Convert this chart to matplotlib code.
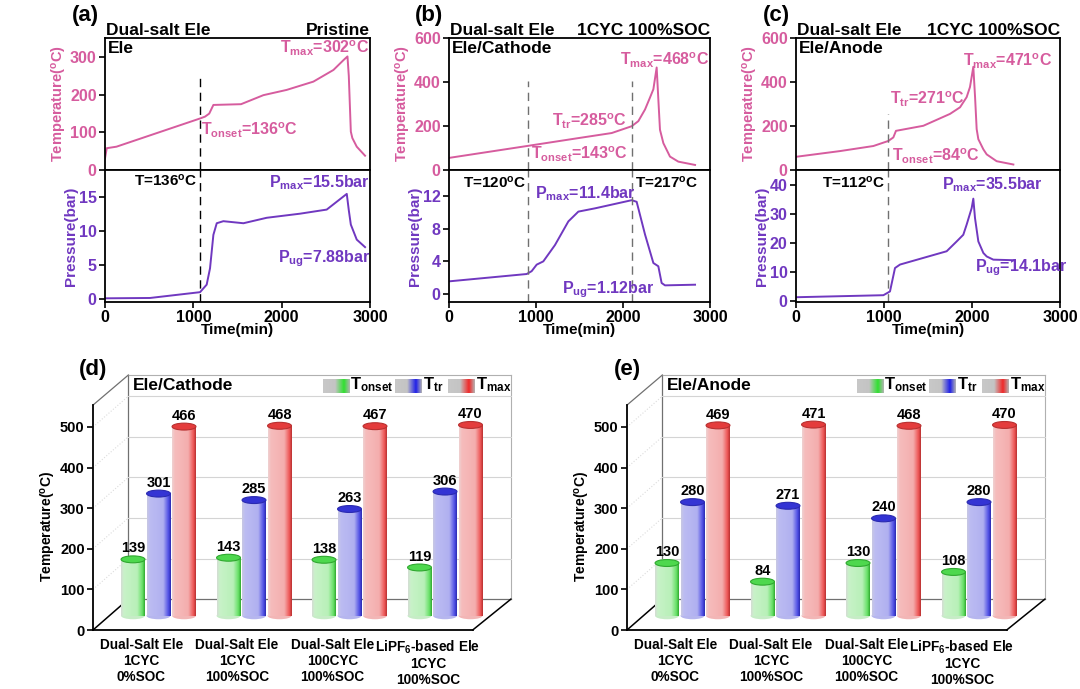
import numpy as np
import matplotlib.pyplot as plt
from matplotlib.patches import Ellipse
from matplotlib.colors import LinearSegmentedColormap

plt.rcParams['font.family'] = ['Liberation Sans', 'DejaVu Sans']
plt.rcParams['font.weight'] = 'bold'
plt.rcParams['axes.labelweight'] = 'bold'
plt.rcParams['mathtext.fontset'] = 'custom'
plt.rcParams['mathtext.rm'] = 'Liberation Sans:bold'
plt.rcParams['mathtext.it'] = 'Liberation Sans:bold'
plt.rcParams['mathtext.bf'] = 'Liberation Sans:bold'
plt.rcParams['mathtext.default'] = 'rm'
plt.rcParams['axes.linewidth'] = 1.3

# ---- ARC curves (time in min) ----
a_temp_t = [0, 20, 130, 1076, 1133, 1180, 1227, 1540, 1793, 2057, 2359, 2586, 2699, 2745, 2760, 2783, 2800, 2850, 2944]
a_temp_v = [31, 58, 62, 137, 142, 150, 173, 175, 199, 213, 235, 266, 292, 302, 250, 102, 85, 62, 38]
a_pres_t = [0, 510, 1076, 1151, 1189, 1227, 1265, 1340, 1567, 1831, 2208, 2510, 2737, 2760, 2783, 2850, 2944]
a_pres_v = [0.1, 0.15, 1.0, 2.1, 4.5, 9.4, 11.1, 11.4, 11.1, 11.9, 12.5, 13.1, 15.4, 13.0, 10.9, 8.7, 7.6]

b_temp_t = [0, 912, 1487, 1870, 2100, 2176, 2253, 2310, 2349, 2387, 2405, 2425, 2464, 2540, 2636, 2828]
b_temp_v = [55, 110, 145, 168, 199, 222, 275, 329, 367, 466, 330, 183, 122, 61, 38, 23]
b_pres_t = [0, 893, 950, 1008, 1084, 1218, 1372, 1487, 1678, 2100, 2157, 2253, 2349, 2406, 2444, 2483, 2828]
b_pres_v = [1.55, 2.45, 2.8, 3.6, 4.0, 6.0, 8.9, 10.1, 10.5, 11.5, 11.3, 7.3, 3.8, 3.4, 1.35, 1.06, 1.14]

c_temp_t = [0, 500, 879, 1049, 1106, 1136, 1447, 1750, 1864, 1939, 1977, 2015, 2035, 2053, 2072, 2129, 2167, 2280, 2470]
c_temp_v = [60, 86, 109, 132, 148, 178, 201, 255, 285, 331, 377, 469, 330, 186, 140, 94, 71, 40, 25]
c_pres_t = [0, 993, 1068, 1125, 1182, 1447, 1712, 1826, 1901, 1939, 1996, 2015, 2034, 2072, 2129, 2167, 2242, 2470]
c_pres_v = [1.2, 1.9, 3.2, 11.3, 12.5, 14.8, 17.1, 20.5, 22.8, 26.3, 32.0, 35.3, 28.6, 20.5, 16.5, 15.3, 14.2, 14.0]

# onset / transition marks (dashed lines)
a_marks = [1076]
b_marks = [912, 2100]
c_marks = [1049]

# ---- bar charts (d) and (e) ----
categories = ['Dual-Salt Ele\n1CYC\n0%SOC', 'Dual-Salt Ele\n1CYC\n100%SOC',
              'Dual-Salt Ele\n100CYC\n100%SOC', 'LiPF$_{6}$-based Ele\n1CYC\n100%SOC']
series_names = ['T$_{onset}$', 'T$_{tr}$', 'T$_{max}$']
cath_onset = [139, 143, 138, 119]
cath_tr = [301, 285, 263, 306]
cath_max = [466, 468, 467, 470]
anode_onset = [130, 84, 130, 108]
anode_tr = [280, 271, 240, 280]
anode_max = [469, 471, 468, 470]

TEMP_C = '#d65c9e'
PRES_C = '#7038c0'
ANN = 11.5

W, H = 1080, 689
fig = plt.figure(figsize=(W / 100, H / 100), dpi=100)


def add_ax(left, top, right, bottom):
    return fig.add_axes([left / W, 1 - bottom / H, (right - left) / W, (bottom - top) / H])


def arc_panel(left, right, tag, title_r, box, tt, tv, pt, pv, t_lim, t_ticks,
              p_lim, p_ticks, marks, mark_top, dash_c):
    w = right - left
    axT = add_ax(left, 38, right, 170)
    axP = add_ax(left, 170, right, 302)
    for ax in (axT, axP):
        ax.set_xlim(0, 3000)
        ax.set_xticks([0, 1000, 2000, 3000])
        ax.tick_params(direction='out', length=4, width=1.2, labelsize=11.5, pad=2)
    axT.tick_params(axis='x', labelbottom=False, length=0)
    axT.plot(tt, tv, color=TEMP_C, lw=1.4)
    axP.plot(pt, pv, color=PRES_C, lw=1.4)
    axT.set_ylim(*t_lim)
    axT.set_yticks(t_ticks)
    axP.set_ylim(*p_lim)
    axP.set_yticks(p_ticks)
    axT.tick_params(axis='y', labelcolor=TEMP_C)
    axP.tick_params(axis='y', labelcolor=PRES_C)
    axT.set_ylabel('Temperature($^{o}$C)', color=TEMP_C, fontsize=10.5)
    axP.set_ylabel('Pressure(bar)', color=PRES_C, fontsize=11)
    axT.yaxis.set_label_coords(-36 / w, 0.5)
    axP.yaxis.set_label_coords(-27 / w, 0.5)
    axP.set_xlabel('Time(min)', fontsize=11)
    axP.xaxis.set_label_coords(0.5, -21 / 132)
    axT.vlines(marks, t_lim[0], mark_top, colors=dash_c, linestyles=(0, (6, 4)), lw=1)
    axP.vlines(marks, p_lim[0], p_lim[1], colors=dash_c, linestyles=(0, (6, 4)), lw=1)
    axT.text(0.012, 0.975, box, transform=axT.transAxes, ha='left', va='top', fontsize=12.5)
    axT.text(0.005, 1 + 3 / 132, 'Dual-salt Ele', transform=axT.transAxes,
             ha='left', va='baseline', fontsize=12.5)
    axT.text(1.0, 1 + 3 / 132, title_r, transform=axT.transAxes,
             ha='right', va='baseline', fontsize=12.5)
    fig.text((left - 20) / W, 1 - 15 / H, tag, ha='center', va='center', fontsize=16)
    return axT, axP


# (a)
axT, axP = arc_panel(105, 370, '(a)', 'Pristine', 'Ele', a_temp_t, a_temp_v, a_pres_t, a_pres_v,
                     (0, 351), [0, 100, 200, 300], (-0.44, 18.9), [0, 5, 10, 15],
                     a_marks, 245, 'black')
axT.text(2990, 323, 'T$_{max}$=302$^{o}$C', color=TEMP_C, ha='right', va='center', fontsize=ANN)
axT.text(1087, 106, 'T$_{onset}$=136$^{o}$C', color=TEMP_C, ha='left', va='center', fontsize=ANN)
axP.text(1050, 17.3, 'T=136$^{o}$C', color='black', ha='right', va='center', fontsize=11)
axP.text(3000, 17.0, 'P$_{max}$=15.5bar', color=PRES_C, ha='right', va='center', fontsize=ANN)
axP.text(3000, 5.9, 'P$_{ug}$=7.88bar', color=PRES_C, ha='right', va='center', fontsize=ANN)

# (b)
axT, axP = arc_panel(449, 710, '(b)', '1CYC 100%SOC', 'Ele/Cathode', b_temp_t, b_temp_v,
                     b_pres_t, b_pres_v, (0, 600), [0, 200, 400, 600], (-0.98, 15.2),
                     [0, 4, 8, 12], b_marks, 405, '#707070')
axT.text(1966, 497, 'T$_{max}$=468$^{o}$C', color=TEMP_C, ha='left', va='center', fontsize=ANN)
axT.text(2042, 222, 'T$_{tr}$=285$^{o}$C', color=TEMP_C, ha='right', va='center', fontsize=ANN)
axT.text(943, 69, 'T$_{onset}$=143$^{o}$C', color=TEMP_C, ha='left', va='center', fontsize=ANN)
axP.text(893, 13.7, 'T=120$^{o}$C', color='black', ha='right', va='center', fontsize=11)
axP.text(2138, 13.7, 'T=217$^{o}$C', color='black', ha='left', va='center', fontsize=11)
axP.text(988, 12.3, 'P$_{max}$=11.4bar', color=PRES_C, ha='left', va='center', fontsize=ANN)
axP.text(1295, 0.5, 'P$_{ug}$=1.12bar', color=PRES_C, ha='left', va='center', fontsize=ANN)

# (c)
axT, axP = arc_panel(796, 1060, '(c)', '1CYC 100%SOC', 'Ele/Anode', c_temp_t, c_temp_v,
                     c_pres_t, c_pres_v, (0, 600), [0, 200, 400, 600], (-0.45, 45.2),
                     [0, 10, 20, 30, 40], c_marks, 255, '#707070')
axT.text(1901, 494, 'T$_{max}$=471$^{o}$C', color=TEMP_C, ha='left', va='center', fontsize=ANN)
axT.text(1068, 323, 'T$_{tr}$=271$^{o}$C', color=TEMP_C, ha='left', va='center', fontsize=ANN)
axT.text(1087, 63, 'T$_{onset}$=84$^{o}$C', color=TEMP_C, ha='left', va='center', fontsize=ANN)
axP.text(1011, 40.7, 'T=112$^{o}$C', color='black', ha='right', va='center', fontsize=11)
axP.text(1655, 40.1, 'P$_{max}$=35.5bar', color=PRES_C, ha='left', va='center', fontsize=ANN)
axP.text(2038, 11.3, 'P$_{ug}$=14.1bar', color=PRES_C, ha='left', va='center', fontsize=ANN)

# ---- pseudo-3D bar charts ----
GROUP_PX = 95.5                 # pixels per category unit
UNIT_PX = 0.406                 # pixels per degree
DX, DY = 0.37, 76               # depth of the box
BX, BY = 0.18, 35               # bars sit half way into the box
BW, BSTEP = 0.25, 0.267
XF0, XF1 = -0.506, 3.47         # front bottom edge
YF_TOP = 554
WALL_TOP = 628
XMAX, YMAX = 3.88, 640
CAP_H = 17

body_cols = [['#d4dcd4', '#c8f2c8', '#b8f0b8', '#66e066', '#2fa82f'],
             ['#c8c8e2', '#bcbcf2', '#b0b0f0', '#5050e6', '#2a2ab0'],
             ['#eed2d2', '#f6bcbc', '#f4aeae', '#ee5656', '#b83030']]
cap_cols = ['#4ed84e', '#3434d4', '#e43c3c']
bottom_cols = ['#c6ecc6', '#b6b6ee', '#f2b6b6']
legend_cols = ['#30e030', '#2020e8', '#f02828']
body_cmaps = [LinearSegmentedColormap.from_list(
    f'b{i}', list(zip([0, 0.12, 0.68, 0.9, 1.0], c))) for i, c in enumerate(body_cols)]
legend_cmaps = [LinearSegmentedColormap.from_list(
    f'l{i}', list(zip([0, 0.45, 0.78, 1.0], ['#c8c8c8', '#c4c4c4', c, '#b4b4b4'])))
    for i, c in enumerate(legend_cols)]
grad = np.linspace(0, 1, 128).reshape(1, -1)


def bar_panel(left_px, tag, box, series):
    ax = fig.add_axes([left_px / W, 1 - 630 / H, (XMAX - XF0) * GROUP_PX / W, YMAX * UNIT_PX / H])
    ax.set_xlim(XF0, XMAX)
    ax.set_ylim(0, YMAX)
    ax.patch.set_alpha(0)
    for s in ['top', 'right']:
        ax.spines[s].set_visible(False)
    ax.spines['left'].set_bounds(0, YF_TOP)
    ax.spines['bottom'].set_bounds(XF0, XF1)
    ax.set_yticks([0, 100, 200, 300, 400, 500])
    ax.tick_params(axis='y', direction='out', length=4, width=1.2, labelsize=10.5, pad=2)
    ax.set_xticks(range(len(categories)))
    ax.set_xticklabels(categories, fontsize=9.8, linespacing=1.15)
    ax.tick_params(axis='x', length=0, pad=6)
    ax.set_ylabel('Temperature($^{o}$C)', fontsize=10)
    ax.yaxis.set_label_coords(-35 / ((XMAX - XF0) * GROUP_PX), 0.40)

    # box: back wall, side diagonals, grid
    wl = XF0 + DX
    xr = XMAX - 0.01
    wall = dict(color='#707070', lw=0.9, zorder=1, clip_on=False)
    ax.plot([wl, xr], [DY, DY], **wall)
    ax.plot([wl, wl], [DY, WALL_TOP], **wall)
    ax.plot([xr, xr], [DY, WALL_TOP], color='#b0b0b0', lw=0.8, zorder=1, clip_on=False)
    ax.plot([wl, xr], [WALL_TOP, WALL_TOP], color='#b0b0b0', lw=0.8, zorder=1, clip_on=False)
    ax.plot([XF0, wl], [0, DY], color='black', lw=1.1, zorder=1, clip_on=False)
    ax.plot([XF1, xr], [0, DY], color='black', lw=1.1, zorder=1, clip_on=False)
    ax.plot([XF0, wl], [YF_TOP, WALL_TOP], color='#707070', lw=0.9, zorder=1, clip_on=False)
    for k in range(1, 6):
        ax.plot([wl, xr], [k * 100 + DY] * 2, color='#d4d4d4', lw=0.8, zorder=1)
        ax.plot([XF0, wl], [k * 100, k * 100 + DY], color='#dcdcdc', lw=0.8, ls=':', zorder=1)

    # cylinders
    for j, vals in enumerate(series):
        xs = [i + (j - 1) * BSTEP + BX for i in range(len(vals))]
        bars = ax.bar(xs, vals, width=BW, bottom=BY, color='none', edgecolor='none', zorder=3)
        for rect, v in zip(bars, vals):
            x0, y0 = rect.get_x(), rect.get_y()
            x1, y1 = x0 + rect.get_width(), y0 + rect.get_height()
            xc = x0 + BW / 2
            ax.add_patch(Ellipse((xc, y0), BW, CAP_H, facecolor=bottom_cols[j],
                                 edgecolor='none', zorder=2.5))
            im = ax.imshow(grad, cmap=body_cmaps[j], extent=(x0, x1, y0, y1),
                           aspect='auto', interpolation='bilinear', zorder=3)
            im.set_clip_path(rect)
            ax.add_patch(Ellipse((xc, y1), BW, CAP_H, facecolor=cap_cols[j],
                                 edgecolor=body_cols[j][4], lw=0.8, zorder=4))
            ax.text(xc, y1 + CAP_H / 2 + 1, f'{v}', ha='center', va='bottom',
                    fontsize=10.5, zorder=5)

    # legend drawn on the back wall
    leg_x = [1.90, 2.656, 3.21]
    for j, name in enumerate(series_names):
        ax.imshow(grad, cmap=legend_cmaps[j], extent=(leg_x[j], leg_x[j] + 0.28, 584, 618),
                  aspect='auto', interpolation='bilinear', zorder=2)
        ax.text(leg_x[j] + 0.29, 604, name, ha='left', va='center', fontsize=12, zorder=5)

    ax.text(wl + 0.05, 603, box, ha='left', va='center', fontsize=12.5, zorder=5)
    fig.text(left_px / W, 1 - 370 / H, tag, ha='center', va='center', fontsize=16)
    ax.set_xlim(XF0, XMAX)
    ax.set_ylim(0, YMAX)
    return ax


bar_panel(93, '(d)', 'Ele/Cathode', [cath_onset, cath_tr, cath_max])
bar_panel(627, '(e)', 'Ele/Anode', [anode_onset, anode_tr, anode_max])

fig.savefig('out.png', dpi=100)
